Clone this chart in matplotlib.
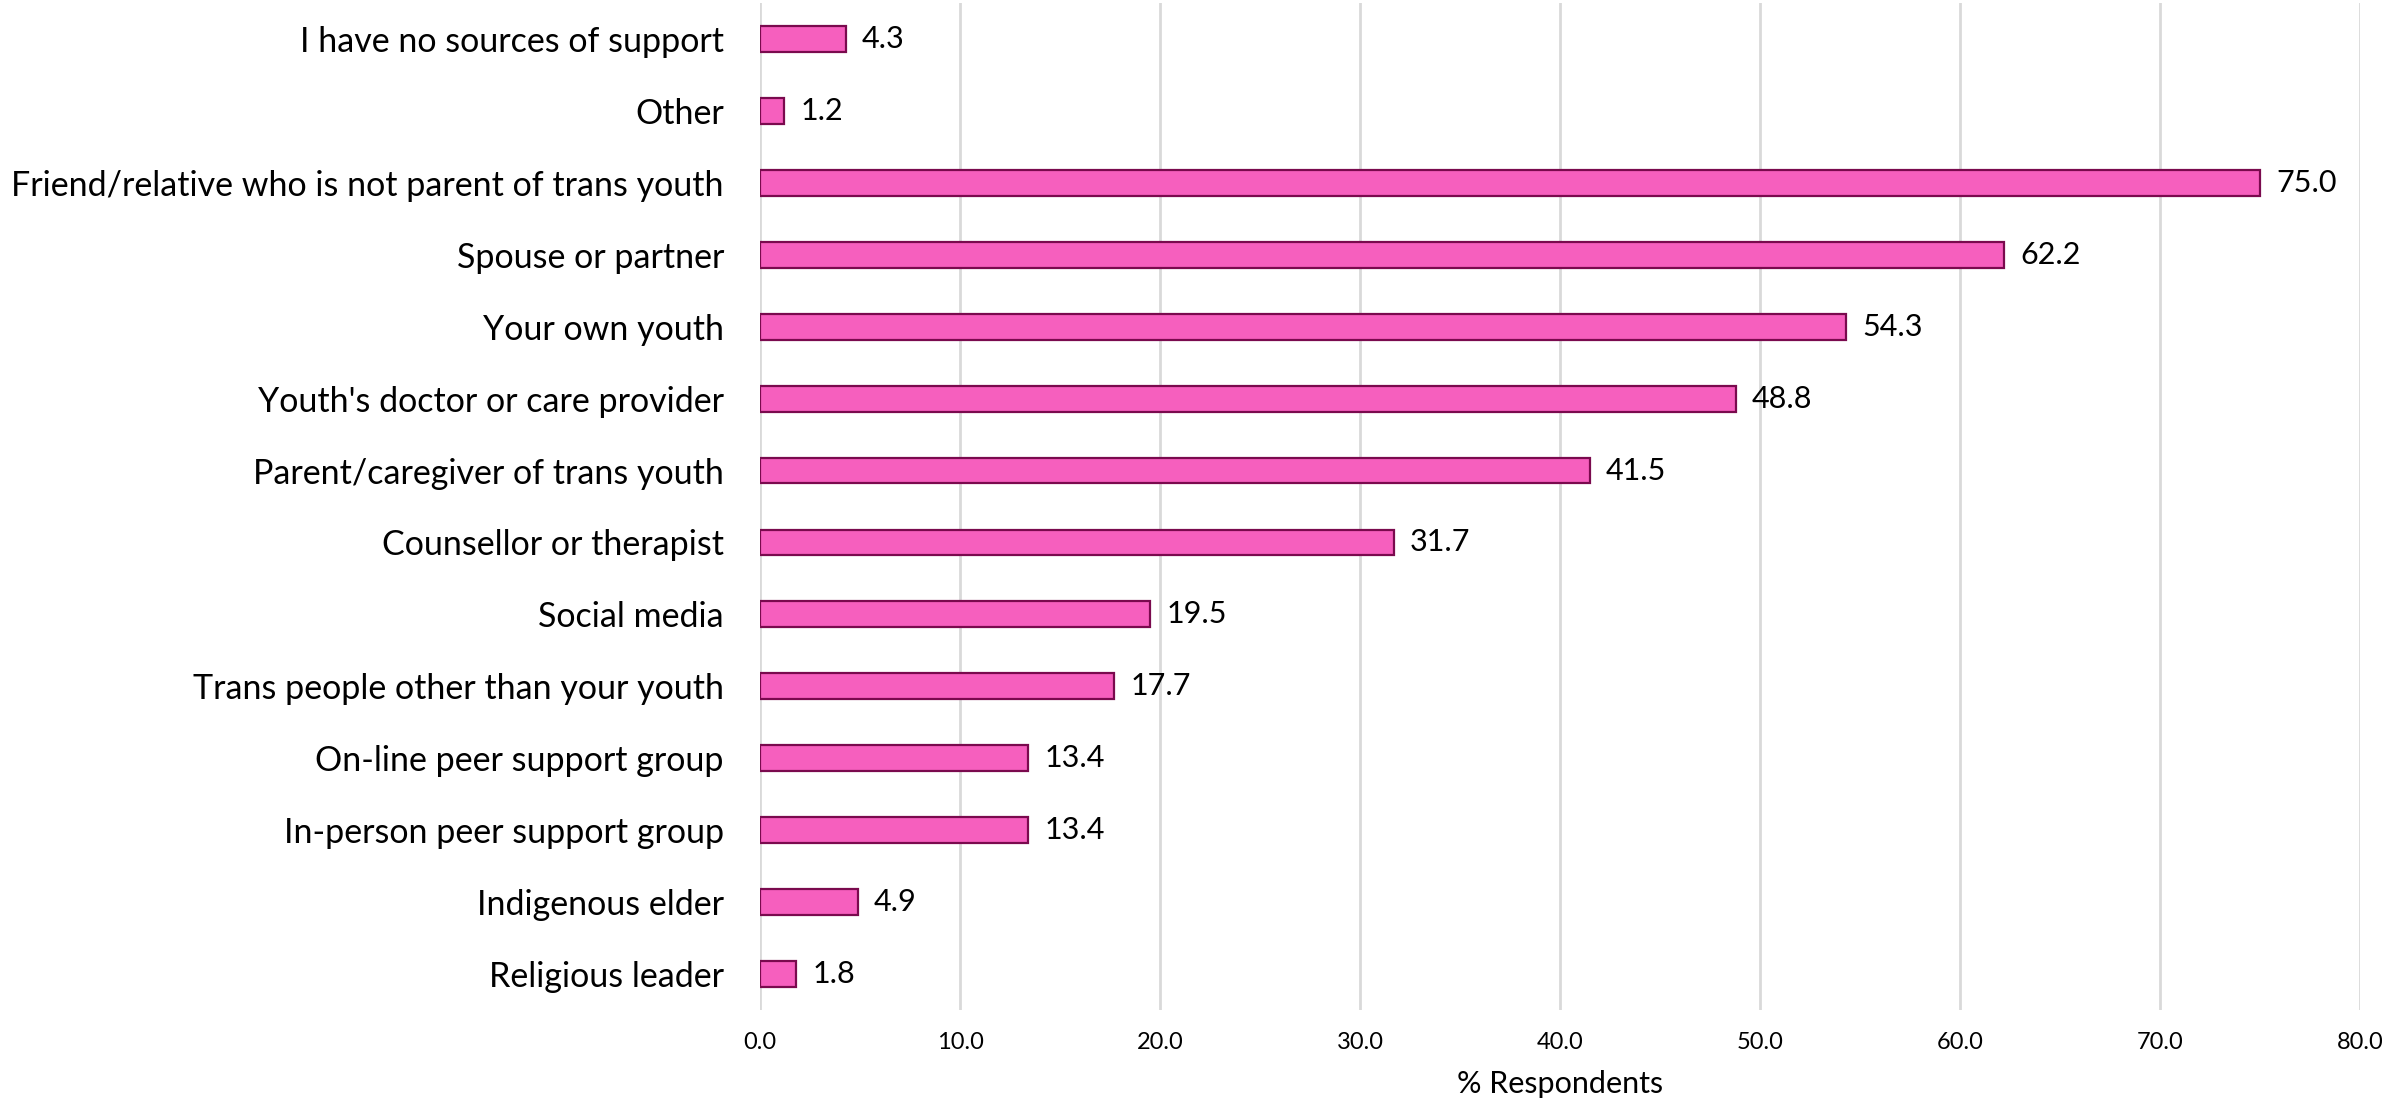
import matplotlib.pyplot as plt

# Sources of support reported by parents (% respondents), top to bottom
categories = [
    "I have no sources of support",
    "Other",
    "Friend/relative who is not parent of trans youth",
    "Spouse or partner",
    "Your own youth",
    "Youth's doctor or care provider",
    "Parent/caregiver of trans youth",
    "Counsellor or therapist",
    "Social media",
    "Trans people other than your youth",
    "On-line peer support group",
    "In-person peer support group",
    "Indigenous elder",
    "Religious leader",
]
values = [4.3, 1.2, 75.0, 62.2, 54.3, 48.8, 41.5, 31.7, 19.5, 17.7, 13.4, 13.4, 4.9, 1.8]
xticks = [0, 10, 20, 30, 40, 50, 60, 70, 80]

plt.rcParams['font.family'] = ['Lato', 'DejaVu Sans']

fig = plt.figure(figsize=(23.82, 11.03), dpi=100)
ax = fig.add_axes([0.3191, 0.0843, 0.6717, 0.913])

ypos = list(range(len(categories)))
ax.barh(ypos, values, height=0.36, color="#F65FBE", edgecolor="#7A0A4E", linewidth=1.6, zorder=3)

for y, v in zip(ypos, values):
    ax.text(v + 0.8, y, f"{v:.1f}", va="center", ha="left", fontsize=22, color="black")

ax.set_ylim(len(categories) - 0.5, -0.5)
ax.set_xlim(0, 80)
ax.set_yticks(ypos)
ax.set_yticklabels(categories, fontsize=24.5)
ax.set_xticks(xticks)
ax.set_xticklabels([f"{t:.1f}" for t in xticks], fontsize=17)
ax.tick_params(axis="y", length=0, pad=26)
ax.tick_params(axis="x", length=0, pad=16)
ax.set_xlabel("% Respondents", fontsize=22, labelpad=12)

ax.grid(axis="x", color="#D9D9D9", linewidth=2, zorder=0)
for s in ax.spines.values():
    s.set_visible(False)

fig.savefig("out.png", dpi=100)
plt.close(fig)
